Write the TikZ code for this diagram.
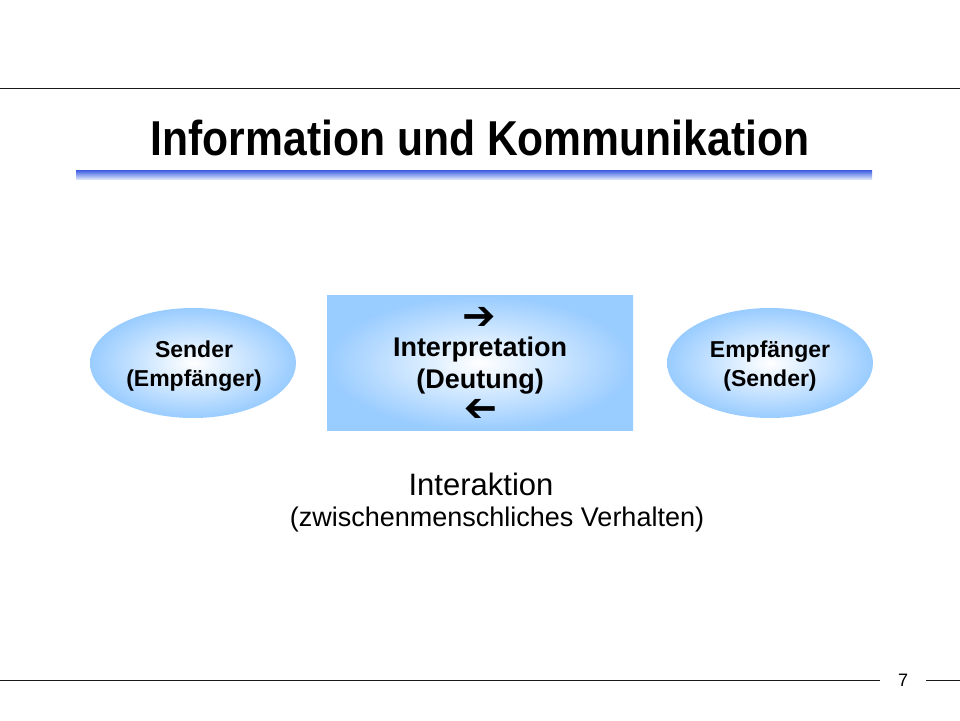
\documentclass[tikz,border=0pt]{standalone}
\usepackage{fontspec}
\setmainfont{Liberation Sans}
\newfontfamily\symfont{DejaVu Sans}
\usepackage{xcolor}
\usetikzlibrary{shapes.geometric}
\definecolor{bg}{HTML}{FFFFFF}
\definecolor{ink}{HTML}{000000}
\definecolor{rule}{HTML}{1A1A1A}
\definecolor{barblue}{HTML}{3A5BE0}
\definecolor{barlight}{HTML}{D6E2FA}
\definecolor{skyblue}{HTML}{99CCFF}
\tikzset{
  sep/.style={draw=rule, line width=1pt},
  blob/.style={ellipse, minimum width=206pt, minimum height=110pt, inner sep=0pt,
    inner color=white, outer color=skyblue},
  panel/.style={rectangle, minimum width=306pt, minimum height=135pt, inner sep=0pt,
    inner color=white, outer color=skyblue},
  lab/.style={text=ink, inner sep=0pt, align=center},
  blobtext/.style={lab, font=\bfseries\fontsize{23}{29}\selectfont},
  arrowsym/.style={lab, font=\symfont\fontsize{40}{40}\selectfont},
}
\begin{document}
\begin{tikzpicture}[x=1pt,y=-1pt]
  \useasboundingbox[fill=bg] (0,0) rectangle (960,720);
  % top and bottom rules
  \draw[sep] (0,88) -- (960,88);
  \node[lab, font=\fontsize{18}{20}\selectfont] (pagenum) at (903,680) {7};
  \draw[sep] (0,680) -- ([xshift=-18pt]pagenum.west);
  \draw[sep] ([xshift=18pt]pagenum.east) -- (960,680);
  % title with bar
  \node[lab, font=\bfseries\fontsize{49}{52}\selectfont, xscale=0.87] (title) at (480,138) {Information und Kommunikation};
  \shade[top color=barblue, bottom color=barlight] (76,170) rectangle (872,179);
  % the three parts
  \node[blob] (sender) at (193,363) {};
  \node[blobtext] (sendertext) at (194,366) {Sender\\(Empfänger)};
  \node[blob] (receiver) at (770,363) {};
  \node[blobtext] (receivertext) at (770,366) {Empfänger\\(Sender)};
  \node[panel] (interp) at (480,363) {};
  \node[arrowsym] (fwd) at (479,318) {➔};
  \node[lab, font=\bfseries\fontsize{27}{32}\selectfont] (interptext) at (480,366) {Interpretation\\(Deutung)};
  \node[arrowsym, xscale=-1] (bwd) at (481,410) {➔};
  % caption below
  \node[lab, font=\fontsize{31}{34}\selectfont] (interaction) at (481,484) {Interaktion};
  \node[lab, font=\fontsize{27}{30}\selectfont] (behaviour) at (497,520) {(zwischenmenschliches Verhalten)};
\end{tikzpicture}
\end{document}
